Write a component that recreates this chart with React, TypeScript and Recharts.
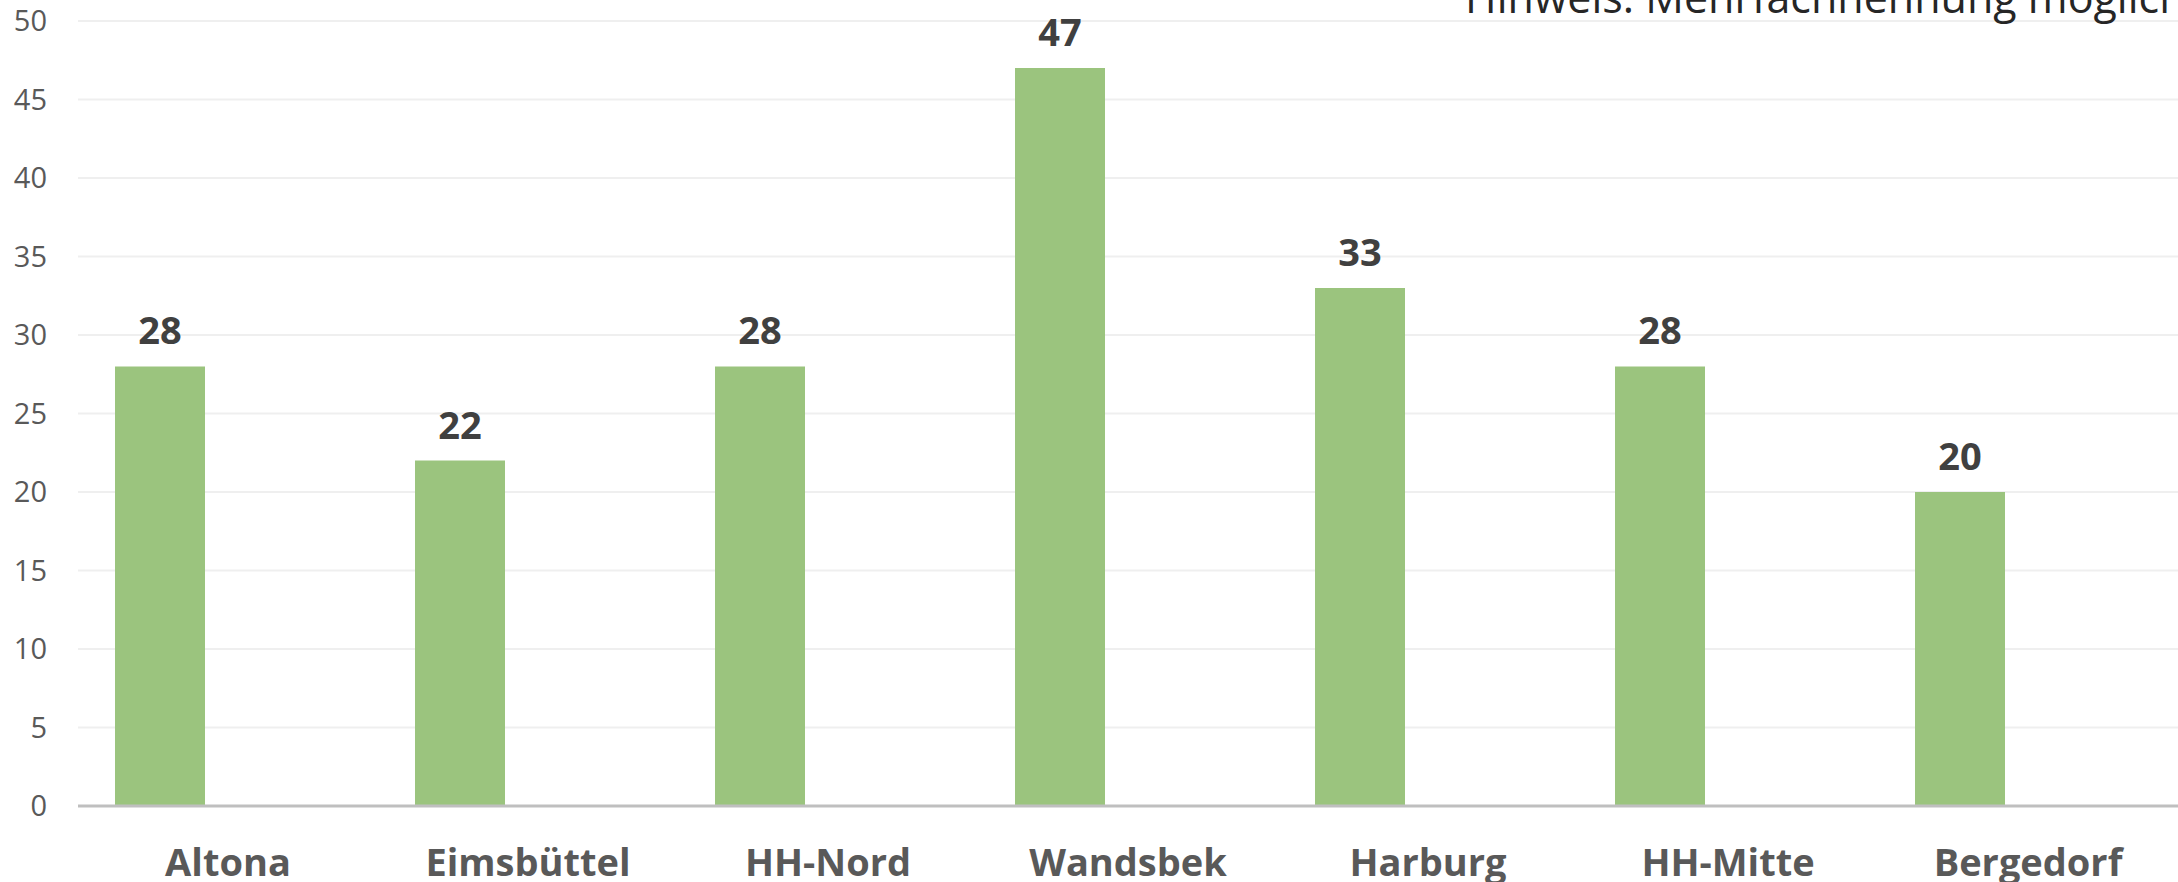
import { BarChart, Bar, XAxis, YAxis, CartesianGrid, LabelList, Customized } from "recharts";

const bezirke = ["Altona", "Eimsbüttel", "HH-Nord", "Wandsbek", "Harburg", "HH-Mitte", "Bergedorf"];
const nennungen = [28, 22, 28, 47, 33, 28, 20];
// Excel reserves a second (empty) bar slot per category, so the bar sits left of center
const leer = [null, null, null, null, null, null, null];
const yTicks = [0, 5, 10, 15, 20, 25, 30, 35, 40, 45, 50];
const hinweis = "Hinweis: Mehrfachnennung möglich.";

const data = bezirke.map((name, i) => ({ name, wert: nennungen[i], leer: leer[i] }));

const FONT = "'Open Sans', 'Noto Sans', sans-serif";

function Hinweis() {
  return (
    <text x={1465} y={13} fontFamily={FONT} fontSize={43} fill="#262626">
      {hinweis}
    </text>
  );
}

export default function App() {
  return (
    <div style={{ position: "absolute", left: 0, top: 0, background: "#fff" }}>
      <BarChart
        width={2178}
        height={882}
        data={data}
        margin={{ top: 21, right: 0, bottom: 0, left: 0 }}
        barCategoryGap={37}
        barGap={46}
      >
        <CartesianGrid vertical={false} stroke="#efefef" strokeWidth={2} />
        <XAxis
          dataKey="name"
          height={76}
          tickLine={false}
          tickSize={0}
          tickMargin={43}
          axisLine={{ stroke: "#bfbfbf", strokeWidth: 3 }}
          tick={{ fill: "#595959", fontSize: 38, fontWeight: 700, fontFamily: FONT }}
          interval={0}
        />
        <YAxis
          width={78}
          domain={[0, 50]}
          ticks={yTicks}
          axisLine={false}
          tickLine={false}
          tickSize={0}
          tickMargin={31}
          tick={{ fill: "#595959", fontSize: 29, fontFamily: FONT }}
        />
        <Bar dataKey="wert" fill="#9bc47e" isAnimationActive={false}>
          <LabelList
            dataKey="wert"
            position="top"
            offset={22}
            fill="#404040"
            fontSize={38}
            fontWeight={700}
            fontFamily={FONT}
          />
        </Bar>
        <Bar dataKey="leer" fill="#a5a5a5" isAnimationActive={false} />
        <Customized component={<Hinweis />} />
      </BarChart>
    </div>
  );
}
